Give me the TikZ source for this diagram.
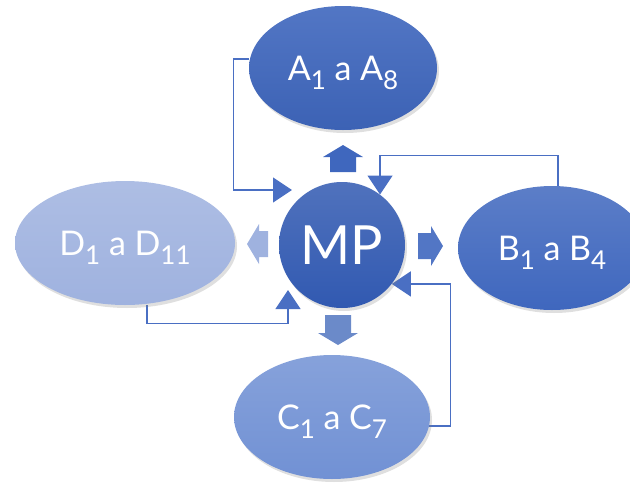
\documentclass[tikz,border=0pt]{standalone}
\usepackage{fontspec}
\setmainfont{Lato}
\usepackage{xcolor}
\usetikzlibrary{shapes,arrows,positioning,calc,arrows.meta,shadows,backgrounds}

\definecolor{hubblue}{HTML}{3159B1}
\definecolor{darkblue}{HTML}{3F67BE}
\definecolor{midblue}{HTML}{7191D4}
\definecolor{paleblue}{HTML}{9FB2DF}
\definecolor{lineblue}{HTML}{4A6FC3}

\newcommand{\lowsub}[1]{\raisebox{-9pt}{\fontsize{26}{26}\selectfont #1}}

\tikzset{
    pics/fatarrow/.style={code={
        \path[pic actions] (-13,0) -- (-13,{-#1+12}) -- (-20,{-#1+12}) -- (0,-#1)
            -- (20,{-#1+12}) -- (13,{-#1+12}) -- (13,0) -- cycle;
    }}
}

\begin{document}
\begin{tikzpicture}[
    x=1pt, y=-1pt,
    every node/.style={text=white, inner sep=0pt},
    group/.style={ellipse, minimum width=#1, minimum height=124pt, text depth=0pt,
        drop shadow={shadow xshift=2pt, shadow yshift=-3pt, opacity=.25},
        font=\fontsize{34}{36}\selectfont},
    hub/.style={circle, minimum size=126pt, top color=hubblue!85!white, bottom color=hubblue,
        drop shadow={shadow xshift=2pt, shadow yshift=-3pt, opacity=.25},
        font=\fontsize{54}{56}\selectfont},
    link/.style={draw=lineblue, line width=1.3pt, -{Triangle[length=19pt, width=25pt]}}
]
\useasboundingbox (0,0) rectangle (630,483);

\node[hub] (MP) at (342,245) {MP};
\node[group=188pt, top color=darkblue!90!white, bottom color=darkblue!95!black] (A) at (343,68)
    {A\lowsub{1} a A\lowsub{8}};
\node[group=188pt, top color=darkblue!85!white, bottom color=darkblue] (B) at (552,248)
    {B\lowsub{1} a B\lowsub{4}};
\node[group=196pt, top color=midblue!85!white, bottom color=midblue] (C) at (332,417)
    {C\lowsub{1} a C\lowsub{7}};
\node[group=220pt, top color=paleblue!85!white, bottom color=paleblue] (D) at (125,243)
    {D\lowsub{1} a D\lowsub{11}};

% fat arrows out of MP
\pic[fill=darkblue] at (343,172) {fatarrow=27};
\pic[fill=darkblue!90!white, rotate=-90] at (418,246) {fatarrow=25};
\pic[fill=midblue!95!black, rotate=180] at (338,315) {fatarrow=30};
\pic[fill=paleblue, rotate=90] at (268,244) {fatarrow=21};

% feedback lines back to MP
\coordinate (aTip) at ($(MP.center)+(-50,-55)$);
\coordinate (dTip) at ($(MP.center)+(-54,45)$);
\begin{scope}[on background layer]
\draw[link] ([yshift=9pt]A.west) -- ++(-15,0) |- (aTip);
\draw[link] ([xshift=6pt]B.north) -- ++(0,-30) -| (MP.53);
\draw[link] ([xshift=-20pt,yshift=-9pt]C.east) -- ++(40,0) |- (MP.-38);
\draw[link] ([xshift=22pt]D.south) -- ++(0,18) -| (dTip);
\end{scope}
\end{tikzpicture}
\end{document}
